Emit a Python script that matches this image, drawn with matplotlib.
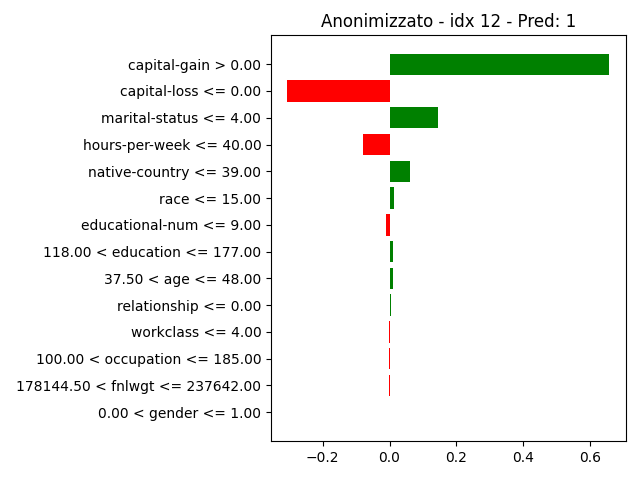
import matplotlib
matplotlib.use('Agg')
import matplotlib.pyplot as plt

# feature rules, top to bottom
labels = [
    'capital-gain > 0.00',
    'capital-loss <= 0.00',
    'marital-status <= 4.00',
    'hours-per-week <= 40.00',
    'native-country <= 39.00',
    'race <= 15.00',
    'educational-num <= 9.00',
    '118.00 < education <= 177.00',
    '37.50 < age <= 48.00',
    'relationship <= 0.00',
    'workclass <= 4.00',
    '100.00 < occupation <= 185.00',
    '178144.50 < fnlwgt <= 237642.00',
    '0.00 < gender <= 1.00',
]
weights = [0.657, -0.306, 0.146, -0.079, 0.062, 0.014, -0.012,
           0.009, 0.009, 0.004, -0.003, -0.003, -0.003, 0.0]

# lime draws bottom-up
vals = weights[::-1]
names = labels[::-1]
colors = ['green' if v > 0 else 'red' for v in vals]
pos = range(len(vals))

fig = plt.figure(figsize=(6.4, 4.8))
plt.barh(pos, vals, align='center', color=colors)
plt.yticks(pos, names)
plt.title('Anonimizzato - idx 12 - Pred: 1')

plt.subplots_adjust(left=0.4234, right=0.9775, top=0.927, bottom=0.0805)
fig.savefig('out.png', dpi=100)
plt.close(fig)
